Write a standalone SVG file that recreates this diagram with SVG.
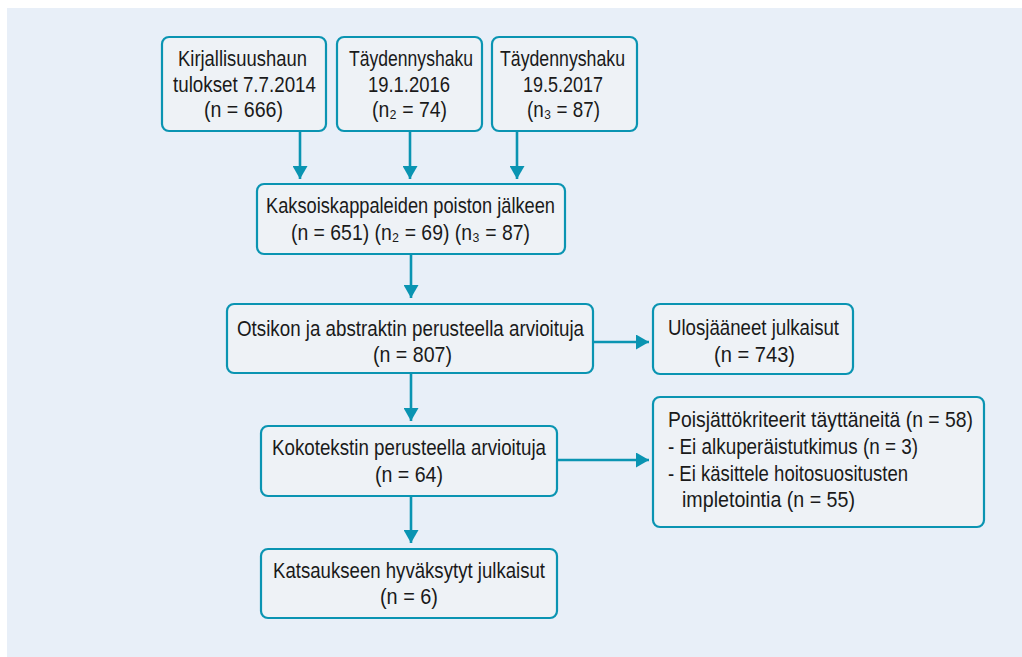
<svg xmlns="http://www.w3.org/2000/svg" width="1022" height="657" viewBox="0 0 1022 657">
<style>
.box{fill:#eef2f6;stroke:#0a94b2;stroke-width:2.2}
.t{font-family:"Liberation Sans","DejaVu Sans",Arial,sans-serif;font-size:22px;fill:#1a1a1a}
.conn line{stroke:#0a94b2;stroke-width:2.6;fill:none}
</style>
<defs>
<marker id="ah" markerUnits="userSpaceOnUse" markerWidth="15" markerHeight="15" viewBox="0 0 15 15" refX="13" refY="7.5" orient="auto">
<path d="M0,0 L13,7.5 L0,15 Z" fill="#0a94b2"/>
</marker>
</defs>
<rect x="7" y="8" width="1015" height="649" fill="#e8eff8"/>

<g id="n1">
<rect class="box" x="162" y="37" width="164" height="94" rx="7"/>
<text class="t" x="178" y="66" textLength="129" lengthAdjust="spacingAndGlyphs">Kirjallisuushaun</text>
<text class="t" x="173" y="92" textLength="143" lengthAdjust="spacingAndGlyphs">tulokset 7.7.2014</text>
<text class="t" x="204" y="117" textLength="79" lengthAdjust="spacingAndGlyphs">(n = 666)</text>
</g>
<g id="n2">
<rect class="box" x="337" y="37" width="145" height="94" rx="7"/>
<text class="t" x="349" y="66" textLength="124" lengthAdjust="spacingAndGlyphs">Täydennyshaku</text>
<text class="t" x="368" y="92" textLength="82" lengthAdjust="spacingAndGlyphs">19.1.2016</text>
<text class="t" x="372" y="117" textLength="75" lengthAdjust="spacingAndGlyphs">(n₂ = 74)</text>
</g>
<g id="n3">
<rect class="box" x="492" y="37" width="145" height="94" rx="7"/>
<text class="t" x="500" y="66" textLength="125" lengthAdjust="spacingAndGlyphs">Täydennyshaku</text>
<text class="t" x="523" y="92" textLength="80" lengthAdjust="spacingAndGlyphs">19.5.2017</text>
<text class="t" x="527" y="117" textLength="73" lengthAdjust="spacingAndGlyphs">(n₃ = 87)</text>
</g>
<g id="n4">
<rect class="box" x="257" y="184" width="308" height="70" rx="7"/>
<text class="t" x="266" y="213" textLength="289" lengthAdjust="spacingAndGlyphs">Kaksoiskappaleiden poiston jälkeen</text>
<text class="t" x="291" y="240" textLength="239" lengthAdjust="spacingAndGlyphs">(n = 651) (n₂ = 69) (n₃ = 87)</text>
</g>
<g id="n5">
<rect class="box" x="227" y="304" width="366" height="69" rx="7"/>
<text class="t" x="237" y="336" textLength="347" lengthAdjust="spacingAndGlyphs">Otsikon ja abstraktin perusteella arvioituja</text>
<text class="t" x="373" y="362" textLength="79" lengthAdjust="spacingAndGlyphs">(n = 807)</text>
</g>
<g id="n6">
<rect class="box" x="653" y="304" width="200" height="70" rx="7"/>
<text class="t" x="668" y="335" textLength="171" lengthAdjust="spacingAndGlyphs">Ulosjääneet julkaisut</text>
<text class="t" x="714" y="362" textLength="81" lengthAdjust="spacingAndGlyphs">(n = 743)</text>
</g>
<g id="n7">
<rect class="box" x="261" y="426" width="296" height="70" rx="7"/>
<text class="t" x="272" y="455" textLength="274" lengthAdjust="spacingAndGlyphs">Kokotekstin perusteella arvioituja</text>
<text class="t" x="375" y="482" textLength="68" lengthAdjust="spacingAndGlyphs">(n = 64)</text>
</g>
<g id="n8">
<rect class="box" x="653" y="397" width="331" height="130" rx="7"/>
<text class="t" x="668" y="427" textLength="305" lengthAdjust="spacingAndGlyphs">Poisjättökriteerit täyttäneitä (n = 58)</text>
<text class="t" x="668" y="454" textLength="250" lengthAdjust="spacingAndGlyphs">- Ei alkuperäistutkimus (n = 3)</text>
<text class="t" x="668" y="481" textLength="240" lengthAdjust="spacingAndGlyphs">- Ei käsittele hoitosuositusten</text>
<text class="t" x="682" y="507" textLength="173" lengthAdjust="spacingAndGlyphs">impletointia (n = 55)</text>
</g>
<g id="n9">
<rect class="box" x="261" y="549" width="296" height="69" rx="7"/>
<text class="t" x="273" y="578" textLength="272" lengthAdjust="spacingAndGlyphs">Katsaukseen hyväksytyt julkaisut</text>
<text class="t" x="380" y="604" textLength="58" lengthAdjust="spacingAndGlyphs">(n = 6)</text>
</g>

<g id="connectors" class="conn">
<line x1="300" y1="131" x2="300" y2="179" marker-end="url(#ah)"/>
<line x1="410" y1="131" x2="410" y2="179" marker-end="url(#ah)"/>
<line x1="517" y1="131" x2="517" y2="179" marker-end="url(#ah)"/>
<line x1="411" y1="254" x2="411" y2="298" marker-end="url(#ah)"/>
<line x1="593" y1="342" x2="649" y2="342" marker-end="url(#ah)"/>
<line x1="411" y1="373" x2="411" y2="421" marker-end="url(#ah)"/>
<line x1="557" y1="460" x2="649" y2="460" marker-end="url(#ah)"/>
<line x1="411" y1="496" x2="411" y2="543" marker-end="url(#ah)"/>
</g>
</svg>
